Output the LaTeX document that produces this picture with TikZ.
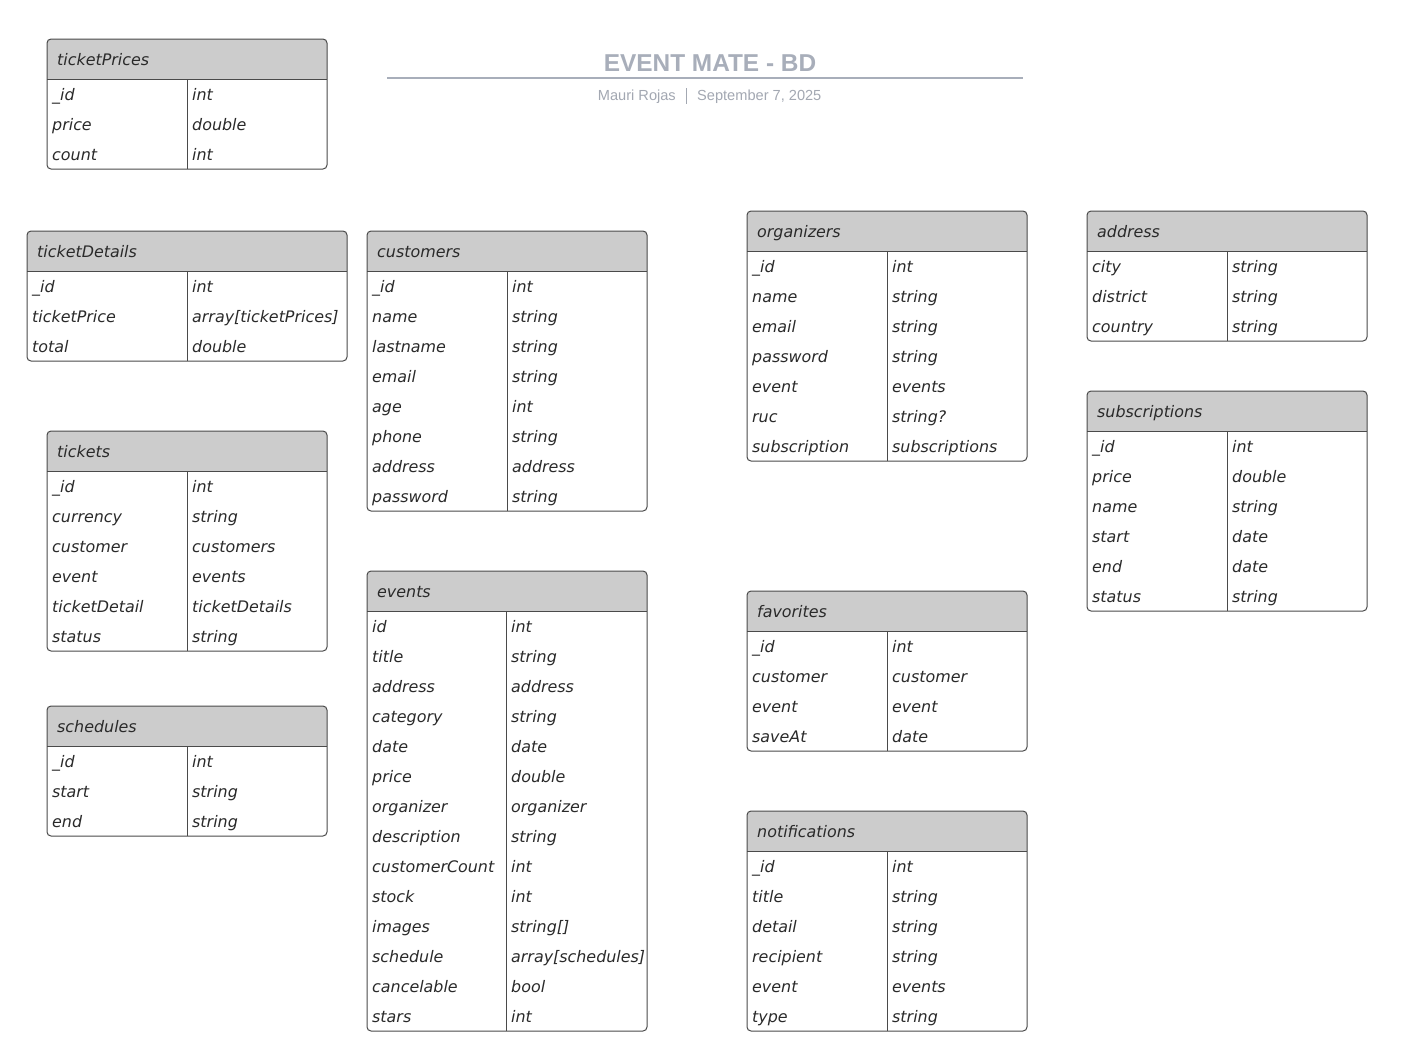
\documentclass[tikz,border=0pt]{standalone}
\usepackage{fontspec}
\setmainfont{DejaVu Sans}
\newfontfamily\titlefont{Liberation Sans}
\usepackage{xcolor}
\usepackage{tikz}

\definecolor{hdrgray}{HTML}{CCCCCC}
\definecolor{rulegray}{HTML}{4A4A4A}
\definecolor{inkgray}{HTML}{2A2A2A}
\definecolor{titlegray}{HTML}{A8AEBA}
\definecolor{subgray}{HTML}{A3A8B2}

\tikzset{
  tblline/.style={draw=rulegray,line width=1pt},
  tblhead/.style={anchor=base west,inner sep=0pt,text=inkgray,font=\fontsize{15.9}{18}\selectfont\itshape},
  fieldtxt/.style={anchor=base west,inner sep=0pt,text=inkgray,font=\fontsize{15.9}{18}\selectfont\itshape}
}

% #1 name, #2 left, #3 top, #4 width, #5 divider offset, #6 rows, #7 field/type list
\newcommand\dbtable[7]{%
  \fill[hdrgray,rounded corners=4] (#2,#3+40) |- (#2+#4,#3) [sharp corners] -- (#2+#4,#3+40) -- cycle;
  \draw[tblline] (#2,#3+40) -- (#2+#4,#3+40);
  \draw[tblline] (#2+#5,#3+40) -- (#2+#5,#3+40+30*#6);
  \draw[tblline,rounded corners=4] (#2,#3) rectangle (#2+#4,#3+40+30*#6);
  \node[tblhead] (#1) at (#2+10,#3+26.5) {#1};
  \foreach \f/\t [count=\i] in {#7}{
    \node[fieldtxt] (#1-f\i) at ({#2+5},{#3+31.5+30*\i}) {\f};
    \node[fieldtxt] (#1-t\i) at ({#2+#5+5},{#3+31.5+30*\i}) {\t};
  }
}

\begin{document}
\begin{tikzpicture}[x=1pt,y=-1pt]
  \useasboundingbox[fill=white] (0,0) rectangle (1409,1061);
  % title block
  \node[text=titlegray,font=\fontsize{24.4}{28}\selectfont\titlefont\bfseries,anchor=base,inner sep=0pt] (title) at (710,71.5) {EVENT MATE - BD};
  \coordinate (ruleL) at (387,78);
  \coordinate (ruleR) at (1023,78);
  \draw[titlegray,line width=2pt] (ruleL) -- (ruleR);
  \node[text=subgray,font=\fontsize{14.6}{16}\selectfont\titlefont,anchor=base east,inner sep=0pt] (author) at (676,100.5) {Mauri Rojas};
  \node[text=subgray,font=\fontsize{14.6}{16}\selectfont\titlefont,anchor=base west,inner sep=0pt] (date) at (697,100.5) {September 7, 2025};
  \draw[subgray,line width=.8pt] (686,88) -- (686,104);

  \dbtable{ticketPrices}{47}{39}{280}{140}{3}{\_id/int,price/double,count/int}
  \dbtable{ticketDetails}{27}{231}{320}{160}{3}{\_id/int,ticketPrice/array[ticketPrices],total/double}
  \dbtable{tickets}{47}{431}{280}{140}{6}{\_id/int,currency/string,customer/customers,event/events,ticketDetail/ticketDetails,status/string}
  \dbtable{schedules}{47}{706}{280}{140}{3}{\_id/int,start/string,end/string}
  \dbtable{customers}{367}{231}{280}{140}{8}{\_id/int,name/string,lastname/string,email/string,age/int,phone/string,address/address,password/string}
  \dbtable{events}{367}{571}{280}{139}{14}{id/int,title/string,address/address,category/string,date/date,price/double,organizer/organizer,description/string,customerCount/int,stock/int,images/string[],schedule/array[schedules],cancelable/bool,stars/int}
  \dbtable{organizers}{747}{211}{280}{140}{7}{\_id/int,name/string,email/string,password/string,event/events,ruc/string?,subscription/subscriptions}
  \dbtable{favorites}{747}{591}{280}{140}{4}{\_id/int,customer/customer,event/event,saveAt/date}
  \dbtable{notifications}{747}{811}{280}{140}{6}{\_id/int,title/string,detail/string,recipient/string,event/events,type/string}
  \dbtable{address}{1087}{211}{280}{140}{3}{city/string,district/string,country/string}
  \dbtable{subscriptions}{1087}{391}{280}{140}{6}{\_id/int,price/double,name/string,start/date,end/date,status/string}
\end{tikzpicture}
\end{document}
